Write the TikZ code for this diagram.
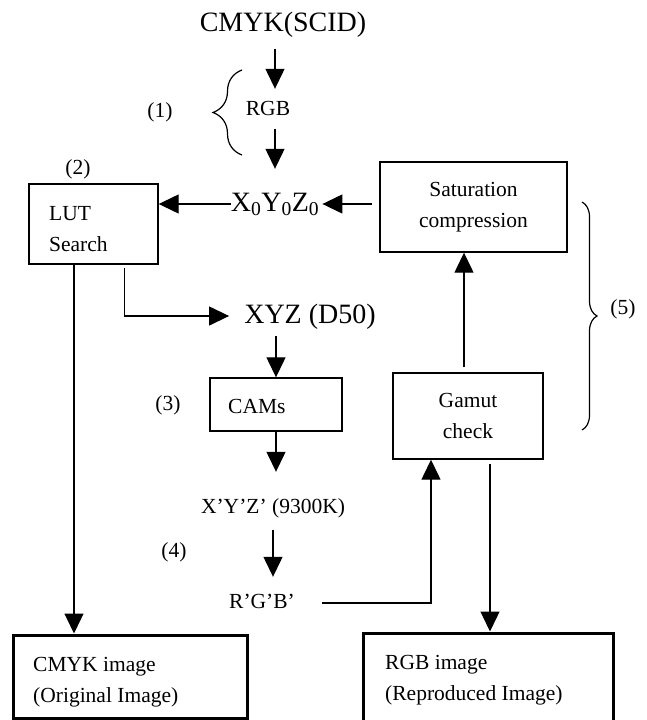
\documentclass[tikz,border=0pt]{standalone}
\usepackage{fontspec}
\setmainfont{Liberation Serif}
\usetikzlibrary{arrows.meta,decorations.pathreplacing}
\begin{document}
\begin{tikzpicture}[x=1pt,y=-1pt,
  big/.style={font=\fontsize{28}{34}\selectfont, inner sep=0pt, text height=20pt, text depth=6pt},
  txt/.style={font=\fontsize{21.5}{31}\selectfont, inner sep=0pt, text height=15pt, text depth=5pt},
  txtm/.style={font=\fontsize{21.5}{31}\selectfont, inner sep=0pt, align=left},
  box/.style={draw, line width=1.4pt, inner sep=0pt},
  thickbox/.style={draw, line width=3pt, inner sep=0pt},
  arr/.style={line width=1.3pt, -{Triangle[length=20pt,width=19pt]}},
  ln/.style={line width=1.3pt},
  brc/.style={line width=1.2pt, decorate, decoration={brace, amplitude=#1}}
]
\path[use as bounding box] (0,0) rectangle (647,720);

% text nodes
\node[big] (cmyk) at (283,24) {CMYK(SCID)};
\node[txt] (rgb) at (268,110) {RGB};
\node[big] (x0) at (275,204) {X\textsubscript{0}Y\textsubscript{0}Z\textsubscript{0}};
\node[big] (xyz) at (310,316) {XYZ (D50)};
\node[txt] (xp) at (273,508) {X’Y’Z’ (9300K)};
\node[txt] (rp) at (262,603) {R’G’B’};
\node[txt] (l1) at (160,112) {(1)};
\node[txt] (l2) at (78,169) {(2)};
\node[txt] (l3) at (168,405) {(3)};
\node[txt] (l4) at (174,552) {(4)};
\node[txt] (l5) at (623,309) {(5)};

% boxes
\node[box, minimum width=129pt, minimum height=80pt] (lut) at (93.5,224) {};
\node[txtm, anchor=west] (luttext) at (49,229) {LUT\\Search};
\node[box, txtm, align=center, minimum width=187pt, minimum height=90pt] (sat) at (473.5,207) {Saturation\\compression};
\node[box, txtm, align=center, minimum width=150pt, minimum height=86pt] (gamut) at (468,416) {Gamut\\check};
\node[box, minimum width=132pt, minimum height=53pt] (cams) at (276,404.5) {};
\node[txt, anchor=west] (camstext) at (228,408) {CAMs};
\node[thickbox, minimum width=234pt, minimum height=83pt] (cmykimg) at (130,676.5) {};
\node[txtm, anchor=west] (cmykimgtext) at (33,682) {CMYK image\\(Original Image)};
\node[thickbox, minimum width=250pt, minimum height=91pt] (rgbimg) at (488,678.5) {};
\node[txtm, anchor=west] (rgbimgtext) at (385,680) {RGB image\\(Reproduced Image)};

% connectors
\draw[arr, shorten <=12pt, shorten >=11pt] (cmyk.south -| x0.north) -- (rgb.north -| x0.north);
\draw[arr, shorten <=9pt, shorten >=22pt] (rgb.south -| x0.north) -- (x0.north);
\draw[arr, shorten <=7pt, shorten >=3pt] (sat.west |- x0.east) -- (x0.east);
\draw[arr] (x0.west) -- (lut.east |- x0.west);
\draw[arr, shorten <=3pt, shorten >=15pt] ([xshift=-34pt]lut.south east) |- (xyz.west);
\draw[arr] ([xshift=-19.5pt]lut.south) -- ([xshift=-19.5pt]lut.south |- cmykimg.north);
\draw[arr, shorten <=7pt] (cams.north |- xyz.south) -- (cams.north);
\draw[arr, shorten >=26pt] (cams.south) -- (cams.south |- xp.north);
\draw[arr, shorten <=12pt, shorten >=16pt] (xp.south) -- (rp.north -| xp.south);
\draw[arr, shorten <=27pt] (rp.east) -| ([xshift=-37pt]gamut.south);
\draw[arr, shorten <=5pt] ([xshift=-4pt]gamut.north) -- ([xshift=-4pt]gamut.north |- sat.south);
\draw[arr, shorten <=4pt] ([xshift=22pt]gamut.south) -- ([xshift=22pt]gamut.south |- rgbimg.north);

% braces
\draw[brc=29pt] (242,155) -- (242,70);
\draw[brc=15pt] (582,202) -- (582,430);
\end{tikzpicture}
\end{document}
